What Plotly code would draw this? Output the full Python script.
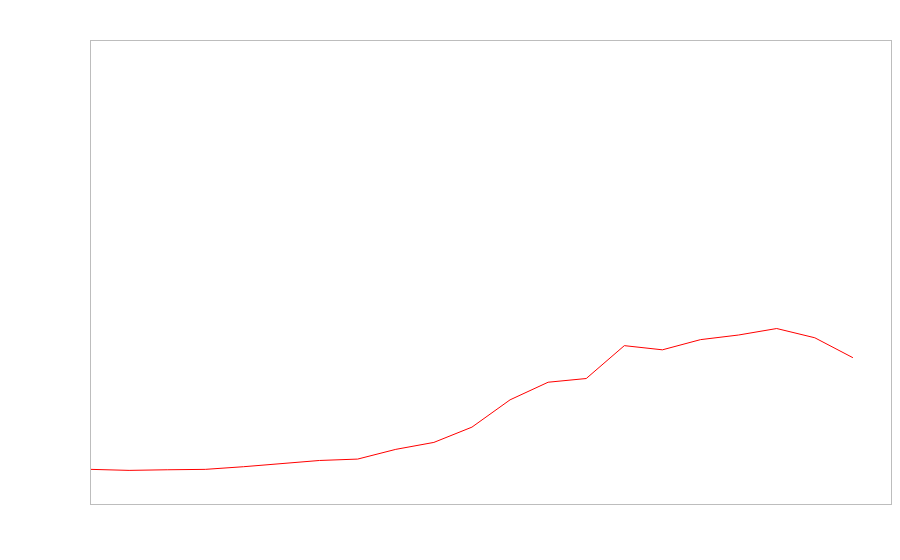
import plotly.graph_objects as go

x_vals = list(range(21))
y_vals = [7.48, 7.26, 7.39, 7.48, 8.05, 8.7, 9.4, 9.7, 11.8, 13.3, 16.6,
          22.5, 26.3, 27.1, 34.2, 33.3, 35.5, 36.5, 37.9, 35.9, 31.6]

fig = go.Figure()
fig.add_trace(go.Scatter(x=x_vals, y=y_vals, mode="lines",
                         line=dict(color="#ff0000", width=1),
                         showlegend=False, hoverinfo="skip"))

axis_common = dict(showline=True, mirror=True, linecolor="#bdbdbd", linewidth=1,
                   showgrid=False, zeroline=False, showticklabels=False, ticks="")
fig.update_layout(
    width=884, height=544,
    margin=dict(l=83, r=1, t=33, b=48, pad=0),
    paper_bgcolor="white", plot_bgcolor="white",
    xaxis=dict(range=[0, 21], **axis_common),
    yaxis=dict(range=[0, 100], **axis_common),
)
fig.write_html("out.html")
